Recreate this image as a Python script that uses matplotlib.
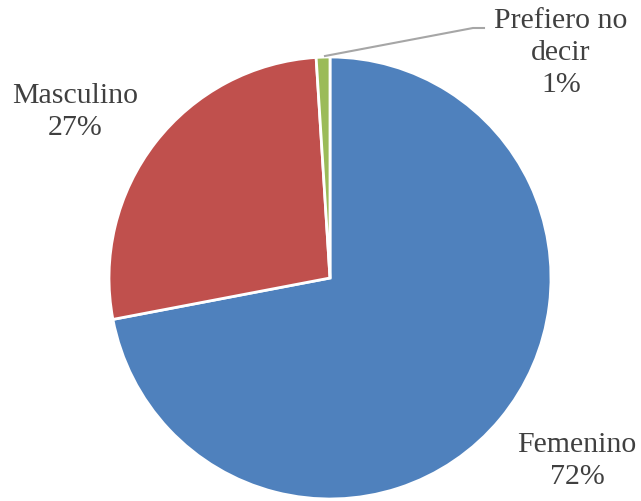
import matplotlib.pyplot as plt

# datos
categorias = ['Femenino', 'Masculino', 'Prefiero no\ndecir']
porcentajes = [72, 27, 1]
colores = ['#4F81BD', '#C0504D', '#9BBB59']

# posiciones de las etiquetas (pixeles, origen abajo a la izquierda)
pos_etiquetas = [(577, 41), (75, 390), (561, 449)]

fig = plt.figure(figsize=(6.41, 5.02), dpi=100)
ax = fig.add_axes([0, 0, 1, 1])

ax.pie(porcentajes, colors=colores, startangle=90, counterclock=False,
       center=(330, 223), radius=221,
       wedgeprops=dict(edgecolor='white', linewidth=2))

# pie() cambia los limites, se fijan despues
ax.set_xlim(0, 641)
ax.set_ylim(0, 502)
ax.set_aspect('equal')
ax.axis('off')

for cat, val, (x, y) in zip(categorias, porcentajes, pos_etiquetas):
    ax.text(x, y, f'{cat}\n{val}%', ha='center', va='center',
            fontsize=21.5, family='Liberation Serif', color='#404040',
            linespacing=1.28)

# linea guia para la porcion pequena
ax.plot([325, 473, 484], [445, 473, 473], color='#A6A6A6', lw=1.5)

fig.savefig('out.png', dpi=100)
